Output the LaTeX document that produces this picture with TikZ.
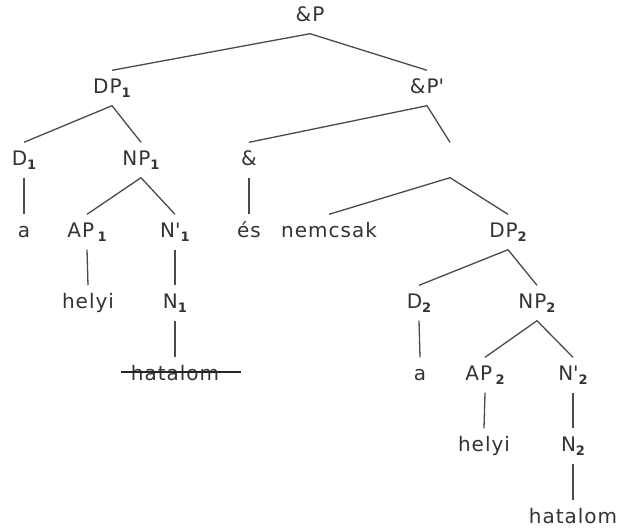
\documentclass[tikz,border=0pt]{standalone}
\usepackage{fontspec}
\setmainfont{DejaVu Sans}[LetterSpace=5.0]
\definecolor{txtgray}{HTML}{333333}
\definecolor{linegray}{HTML}{4A4A4A}
\newcommand{\idx}[1]{\raisebox{-0.22em}{\fontsize{13}{13}\selectfont\bfseries #1}}
% straight apostrophe glyph, set directly so the TeX mapping keeps it straight
\newcommand{\primemark}{\XeTeXglyph\XeTeXcharglyph"27\relax}
\begin{document}
\begin{tikzpicture}[x=1pt,y=-1pt,
  lbl/.style={text=txtgray, font=\fontsize{20}{24}\selectfont, inner sep=0pt,
    minimum height=35pt, text height=14pt, text depth=4pt},
  branch/.style={draw=linegray, line width=1.3pt},
  strike/.style={draw=black!85, line width=1.3pt}]
\useasboundingbox (0,0) rectangle (618,528);

% level 0 and 1
\node[lbl] (P)   at (310,16)  {\&P};
\node[lbl] (DP1) at (112,88)  {DP\idx{1}};
\node[lbl] (Pp)  at (427,88)  {\&P\primemark};
% level 2
\node[lbl] (D1)  at (24,160)  {D\idx{1}};
\node[lbl] (NP1) at (141,160) {NP\idx{1}};
\node[lbl] (amp) at (249,160) {\&};
\node[lbl, minimum width=1pt] (X) at (450,160) {};
% level 3
\node[lbl] (a1)  at (24,232)  {a};
\node[lbl] (AP1) at (87,232)  {AP\,\idx{1}};
\node[lbl] (Nb1) at (175,232) {N\primemark\idx{1}};
\node[lbl] (es)  at (249,232) {és};
\node[lbl] (nc)  at (329,232) {nemcsak};
\node[lbl] (DP2) at (508,232) {DP\idx{2}};
% level 4
\node[lbl] (hel1) at (88,303)  {helyi};
\node[lbl] (N1)   at (175,303) {N\idx{1}};
\node[lbl] (D2)   at (419,303) {D\idx{2}};
\node[lbl] (NP2)  at (537,303) {NP\idx{2}};
% level 5
\node[lbl] (hat1) at (175,375) {hatalom};
\node[lbl] (a2)   at (420,375) {a};
\node[lbl] (AP2)  at (485,375) {AP\,\idx{2}};
\node[lbl] (Nb2)  at (573,375) {N\primemark\idx{2}};
% level 6 and 7
\node[lbl] (hel2) at (484,446) {helyi};
\node[lbl] (N2)   at (573,446) {N\idx{2}};
\node[lbl] (hat2) at (573,518) {hatalom};

% branches
\draw[branch] (DP1.north) -- (P.south) -- (Pp.north);
\draw[branch] (D1.north) -- (DP1.south) -- (NP1.north);
\draw[branch] (amp.north) -- (Pp.south) -- (X.north);
\draw[branch] (nc.north) -- (X.south) -- (DP2.north);
\draw[branch] (D1.south) -- (a1.north);
\draw[branch] (AP1.north) -- (NP1.south) -- (Nb1.north);
\draw[branch] (amp.south) -- (es.north);
\draw[branch] (AP1.south) -- (hel1.north);
\draw[branch] (Nb1.south) -- (N1.north);
\draw[branch] (N1.south) -- (hat1.north);
\draw[branch] (D2.north) -- (DP2.south) -- (NP2.north);
\draw[branch] (D2.south) -- (a2.north);
\draw[branch] (AP2.north) -- (NP2.south) -- (Nb2.north);
\draw[branch] (AP2.south) -- (hel2.north);
\draw[branch] (Nb2.south) -- (N2.north);
\draw[branch] (N2.south) -- (hat2.north);

% deletion line through the first "hatalom"
\coordinate (sl) at (121,372);
\coordinate (sr) at (241,372);
\draw[strike] (sl) -- (sr);
\end{tikzpicture}
\end{document}
